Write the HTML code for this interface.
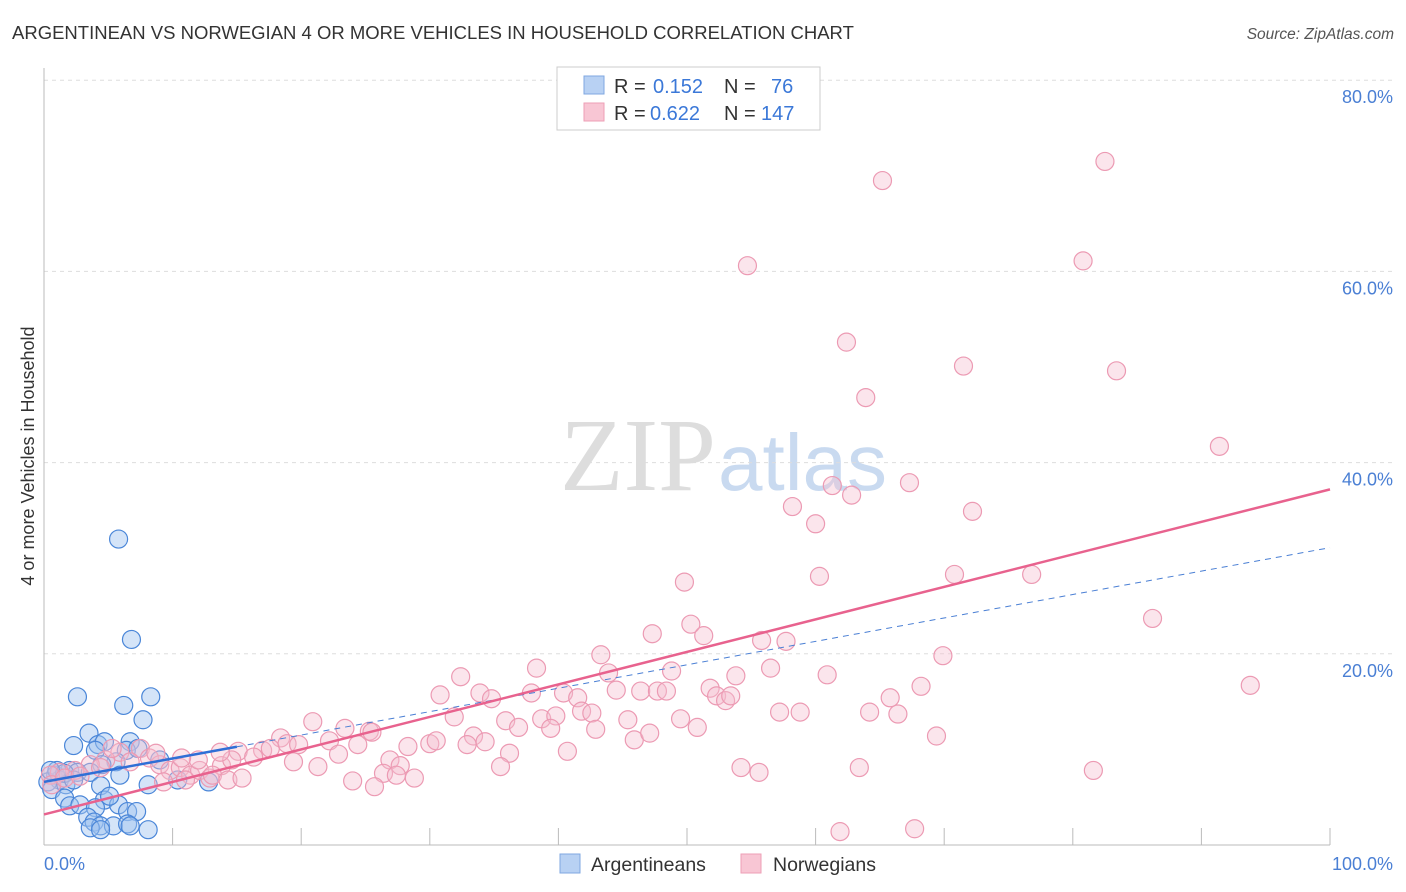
<!DOCTYPE html>
<html><head><meta charset="utf-8"><style>
body{margin:0;background:#fff;font-family:"Liberation Sans",sans-serif;}
#wrap{position:relative;width:1406px;height:892px;overflow:hidden;}
</style></head><body>
<div id="wrap">
<svg id="svg" width="1406" height="892" xmlns="http://www.w3.org/2000/svg">
<text x="12" y="39" font-size="18.5" fill="#333">ARGENTINEAN VS NORWEGIAN 4 OR MORE VEHICLES IN HOUSEHOLD CORRELATION CHART</text>
<text x="1394" y="39" font-size="15.5" fill="#555" font-style="italic" text-anchor="end">Source: ZipAtlas.com</text>
<text x="716" y="490" font-size="104" fill="#ddd" text-anchor="end" font-family="Liberation Serif,serif">ZIP</text>
<text x="718" y="490" font-size="80" fill="#c9daf0">atlas</text>
<g id="grid"></g>
<line x1="44" y1="68" x2="44" y2="845" stroke="#bbb"/>
<line x1="44" y1="845" x2="1330" y2="845" stroke="#bbb"/>
<text x="34" y="456" font-size="18" fill="#333" text-anchor="middle" transform="rotate(-90 34 456)">4 or more Vehicles in Household</text>
<text x="44" y="870" font-size="18" fill="#4a7fd4">0.0%</text>
<text x="1393" y="870" font-size="18" fill="#4a7fd4" text-anchor="end">100.0%</text>
<g id="pts"></g>
<g id="lines"></g>
<g>
<rect x="557" y="67" width="263" height="63" fill="#fff" stroke="#ccc"/>
<rect x="584" y="76" width="20" height="18" fill="#b8d1f3" stroke="#7fa7e0"/>
<rect x="584" y="103" width="20" height="18" fill="#f8c6d4" stroke="#ee9fb6"/>
<text x="614" y="93" font-size="20" fill="#333">R =</text>
<text x="653" y="93" font-size="20" fill="#3b78d8">0.152</text>
<text x="724" y="93" font-size="20" fill="#333">N =</text>
<text x="771" y="93" font-size="20" fill="#3b78d8">76</text>
<text x="614" y="120" font-size="20" fill="#333">R =</text>
<text x="650" y="120" font-size="20" fill="#3b78d8">0.622</text>
<text x="724" y="120" font-size="20" fill="#333">N =</text>
<text x="761" y="120" font-size="20" fill="#3b78d8">147</text>
</g>
<g>
<rect x="560" y="854" width="20" height="19" fill="#b8d1f3" stroke="#7fa7e0"/>
<text x="591" y="871" font-size="19.5" fill="#333">Argentineans</text>
<rect x="741" y="854" width="20" height="19" fill="#f8c6d4" stroke="#ee9fb6"/>
<text x="773" y="871" font-size="19.5" fill="#333">Norwegians</text>
</g>
</svg>
</div>
<script>
const yTicks=[20,40,60,80];
const yTickLabels=["20.0%","40.0%","60.0%","80.0%"];
const xTicks=[10,20,30,40,50,60,70,80,90,100];
const pinkX=[82.5,65.2,54.7,80.8,62.4,71.5,83.4,63.9,91.4,61.3,62.8,67.3,58.2,60.0,72.2,49.8,60.3,70.8,76.8,86.2,47.3,50.3,51.3,55.8,57.7,43.3,69.9,38.3,43.9,48.8,56.5,53.8,60.9,32.4,93.8,30.8,33.9,34.8,37.9,40.4,41.5,44.5,46.4,47.7,48.4,51.8,52.3,53.0,53.4,65.8,68.2,41.8,42.6,31.9,35.9,38.7,39.8,45.4,49.5,57.2,58.8,64.2,66.4,20.9,23.4,25.3,25.5,36.9,39.4,42.9,50.8,33.4,69.4,18.4,17.0,15.1,16.3,17.6,18.9,19.8,22.2,24.4,28.3,30.0,30.5,32.9,34.3,36.2,40.7,45.9,47.1,19.4,21.3,22.9,26.9,27.7,35.5,26.4,27.4,28.8,24.0,25.7,54.2,55.6,63.4,81.6,61.9,67.7,7.5,5.9,4.8,3.6,2.4,1.2,0.5,0.6,1.6,2.8,4.4,6.7,8.2,9.0,9.8,10.6,11.4,12.1,12.9,13.8,14.6,13.7,12.0,10.7,9.3,11.0,13.1,14.3,15.4,8.7,5.3];
const pinkY=[71.5,69.5,60.6,61.1,52.6,50.1,49.6,46.8,41.7,37.6,36.6,37.9,35.4,33.6,34.9,27.5,28.1,28.3,28.3,23.7,22.1,23.1,21.9,21.4,21.3,19.9,19.8,18.5,18.0,18.2,18.5,17.7,17.8,17.6,16.7,15.7,15.9,15.3,15.9,15.9,15.4,16.2,16.1,16.1,16.1,16.4,15.6,15.1,15.6,15.4,16.6,14.0,13.8,13.4,13.0,13.2,13.5,13.1,13.2,13.9,13.9,13.9,13.7,12.9,12.2,11.9,11.8,12.3,12.2,12.1,12.3,11.4,11.4,11.2,9.9,9.8,9.2,10.1,10.6,10.5,10.9,10.5,10.3,10.6,10.9,10.5,10.8,9.6,9.8,11.0,11.7,8.7,8.2,9.5,8.9,8.3,8.2,7.5,7.3,7.0,6.7,6.1,8.1,7.6,8.1,7.8,1.4,1.7,10.1,9.7,8.9,8.4,7.8,7.6,7.3,6.3,7.0,7.2,8.1,8.7,9.1,8.4,7.8,8.1,7.3,7.8,7.0,8.3,8.9,9.7,8.9,9.1,6.6,6.8,7.3,6.8,7.0,9.6,10.1];
const blueX=[5.8,6.8,2.6,8.3,6.2,7.7,3.5,2.3,4.2,4.7,6.7,4.0,6.4,7.3,9.0,5.6,4.5,2.0,2.6,0.9,1.2,0.3,0.6,1.7,3.6,5.9,8.1,10.4,12.8,4.4,4.7,1.6,2.0,2.8,4.0,5.8,5.1,6.5,7.2,3.4,3.9,4.4,3.6,5.4,6.5,4.4,6.7,8.1,1.0,1.6,0.5,2.3];
const blueY=[32.0,21.5,15.5,15.5,14.6,13.1,11.7,10.4,10.5,10.8,10.8,9.9,9.9,10.1,8.9,8.7,8.4,7.8,7.6,7.3,6.8,6.6,5.8,6.3,7.6,7.3,6.3,6.8,6.6,6.2,4.7,4.9,4.1,4.2,3.9,4.2,5.1,3.5,3.5,2.9,2.4,2.0,1.8,2.0,2.2,1.6,2.0,1.6,7.8,7.5,7.8,6.8];
const pinkTrend=[3.2,37.2];
const blueTrend=[6.6,31.1];
const NS="http://www.w3.org/2000/svg";
const xs=v=>44+v*12.86, ys=v=>845-v*9.56;
function mk(tag,attrs,parent){const e=document.createElementNS(NS,tag);for(const k in attrs)e.setAttribute(k,attrs[k]);parent.appendChild(e);return e;}
const grid=document.getElementById('grid');
yTicks.forEach((t,i)=>{
 const l=mk('line',{x1:44,x2:1394,y1:ys(t),y2:ys(t),stroke:'#ddd','stroke-dasharray':'4,4'},grid);
 
 
 const tx=mk('text',{x:1393,y:ys(t)+23,'font-size':18,fill:'#4a7fd4','text-anchor':'end'},grid);
 tx.textContent=yTickLabels[i];
 
 
});
xTicks.forEach(t=>{
 const l=mk('line',{x1:xs(t),x2:xs(t),y1:828,y2:845,stroke:'#bbb'},grid);
 
 
});
const pts=document.getElementById('pts');
blueX.forEach((x,i)=>{
 const c=mk('circle',{cx:xs(x),cy:ys(blueY[i]),r:9,fill:'rgba(160,195,240,0.45)',stroke:'#4a86d8','stroke-width':1.2},pts);
 
 
});
pinkX.forEach((x,i)=>{
 const c=mk('circle',{cx:xs(x),cy:ys(pinkY[i]),r:9,fill:'rgba(246,190,208,0.4)',stroke:'#ec9ab3','stroke-width':1.2},pts);
 
 
});
const lines=document.getElementById('lines');
const bAt=v=>blueTrend[0]+(blueTrend[1]-blueTrend[0])*v/100;
let l1=mk('line',{x1:xs(15),y1:ys(bAt(15)),x2:xs(100),y2:ys(bAt(100)),stroke:'#4a7fd4','stroke-width':1,'stroke-dasharray':'6,5'},lines);


let l2=mk('line',{x1:xs(0),y1:ys(pinkTrend[0]),x2:xs(100),y2:ys(pinkTrend[1]),stroke:'#e8628e','stroke-width':2.5},lines);


let l3=mk('line',{x1:xs(0),y1:ys(bAt(0)),x2:xs(15),y2:ys(bAt(15)),stroke:'#2f6fd6','stroke-width':2.5},lines);


</script>
</body></html>
